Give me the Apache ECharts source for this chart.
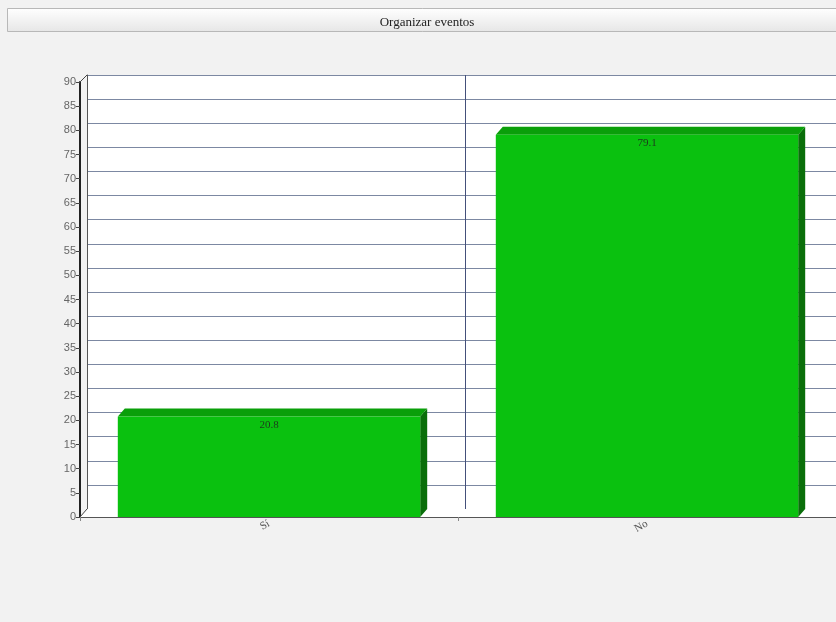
<!DOCTYPE html>
<html><head><meta charset="utf-8">
<script src="https://cdn.jsdelivr.net/npm/echarts@6/dist/echarts.min.js"></script>
<style>html,body{margin:0;padding:0;background:#f2f2f2}#c{width:836px;height:622px}</style>
</head><body><div id="c"></div>
<script>
const titleText = 'Organizar eventos';
const categories = ['Sí', 'No'];
const values = [20.8, 79.1];
const yMin = 0, yMax = 90, yStep = 5;

const DX = 7, DY = 8;
const chart = echarts.init(document.getElementById('c'));
const serif = 'Liberation Serif';

chart.setOption({
  backgroundColor: '#f2f2f2',
  animation: false,
  title: {
    text: titleText, left: 422, top: 11, textAlign: 'center',
    textStyle: {fontFamily: serif, fontSize: 13, fontWeight: 'normal', color: '#222'}
  },
  graphic: [{
    type: 'rect', left: 7, top: 8, z: -1,
    shape: {width: 840, height: 23},
    style: {
      fill: new echarts.graphic.LinearGradient(0, 0, 0, 1, [
        {offset: 0, color: '#ffffff'}, {offset: 1, color: '#e6e6e6'}]),
      stroke: '#b8b8b8', lineWidth: 1
    }
  }],
  grid: [
    {left: 87, top: 75, width: 756, height: 434, show: true, backgroundColor: '#ffffff', borderWidth: 0, outerBoundsMode: 'none', containLabel: false},
    {left: 80, top: 82, width: 756, height: 435, show: false, outerBoundsMode: 'none', containLabel: false}
  ],
  xAxis: [
    {gridIndex: 0, type: 'category', data: categories, boundaryGap: true,
     axisLine: {show: true, lineStyle: {color: '#333', width: 1}},
     axisTick: {show: false}, axisLabel: {show: false},
     splitLine: {show: true, lineStyle: {color: '#44507a', width: 1}}},
    {gridIndex: 1, type: 'category', data: categories, boundaryGap: true,
     axisLine: {show: true, lineStyle: {color: '#222', width: 1.5}},
     axisTick: {show: true, length: 4, lineStyle: {color: '#888'}},
     axisLabel: {rotate: 30, margin: 6, fontFamily: serif, fontSize: 11, color: '#555'},
     splitLine: {show: false}}
  ],
  yAxis: [
    {gridIndex: 0, type: 'value', min: yMin, max: yMax, interval: yStep,
     axisLine: {show: true, lineStyle: {color: '#555', width: 1}},
     axisTick: {show: false}, axisLabel: {show: false},
     splitLine: {show: true, lineStyle: {color: '#7c88a2', width: 1}}},
    {gridIndex: 1, type: 'value', min: yMin, max: yMax, interval: yStep,
     axisLine: {show: true, lineStyle: {color: '#222', width: 2}},
     axisTick: {show: true, length: 4, lineStyle: {color: '#444'}},
     axisLabel: {margin: 4, fontFamily: 'Liberation Sans', fontSize: 11, color: '#666'},
     splitLine: {show: false}}
  ],
  series: [
    {
      type: 'custom', xAxisIndex: 1, yAxisIndex: 1, z: 1, silent: true,
      data: [[0, 0]],
      renderItem: function (params, api) {
        const cs = params.coordSys;
        const l = cs.x, r = cs.x + cs.width, t = cs.y, b = cs.y + cs.height;
        return {
          type: 'group', children: [
            {type: 'polygon', shape: {points: [[l, b], [r + DX, b], [r + DX, b - DY], [l + DX, b - DY]]},
             style: {fill: '#ffffff', stroke: null}},
            {type: 'line', shape: {x1: l, y1: b, x2: l + DX, y2: b - DY}, style: {stroke: '#444', lineWidth: 1}},
            {type: 'line', shape: {x1: l, y1: t, x2: l + DX, y2: t - DY + 1}, style: {stroke: '#444', lineWidth: 1}}
          ]
        };
      }
    },
    {
      type: 'custom', xAxisIndex: 1, yAxisIndex: 1, z: 3, silent: true,
      data: values.map((v, i) => [i, v]),
      encode: {x: 0, y: 1},
      renderItem: function (params, api) {
        const idx = api.value(0), v = api.value(1);
        const p0 = api.coord([idx, 0]);
        const p1 = api.coord([idx, v]);
        const bw = api.size([1, 0])[0] * 0.8;
        const x1 = p0[0] - bw / 2, x2 = p0[0] + bw / 2, yb = p0[1], yt = p1[1];
        return {
          type: 'group', children: [
            {type: 'polygon', shape: {points: [[x2, yt], [x2 + DX, yt - DY], [x2 + DX, yb - DY], [x2, yb]]},
             style: {fill: '#0a6e0a'}},
            {type: 'polygon', shape: {points: [[x1, yt], [x2, yt], [x2 + DX, yt - DY], [x1 + DX, yt - DY]]},
             style: {fill: '#0a9f0a'}},
            {type: 'rect', shape: {x: x1, y: yt, width: bw, height: yb - yt},
             style: {fill: '#0ac10f'}},
            {type: 'text', x: p0[0], y: yt + 3,
             style: {text: String(v), fill: '#1e3a1e', font: '11px "Liberation Serif"', align: 'center', verticalAlign: 'top'}}
          ]
        };
      }
    }
  ]
});
</script></body></html>
